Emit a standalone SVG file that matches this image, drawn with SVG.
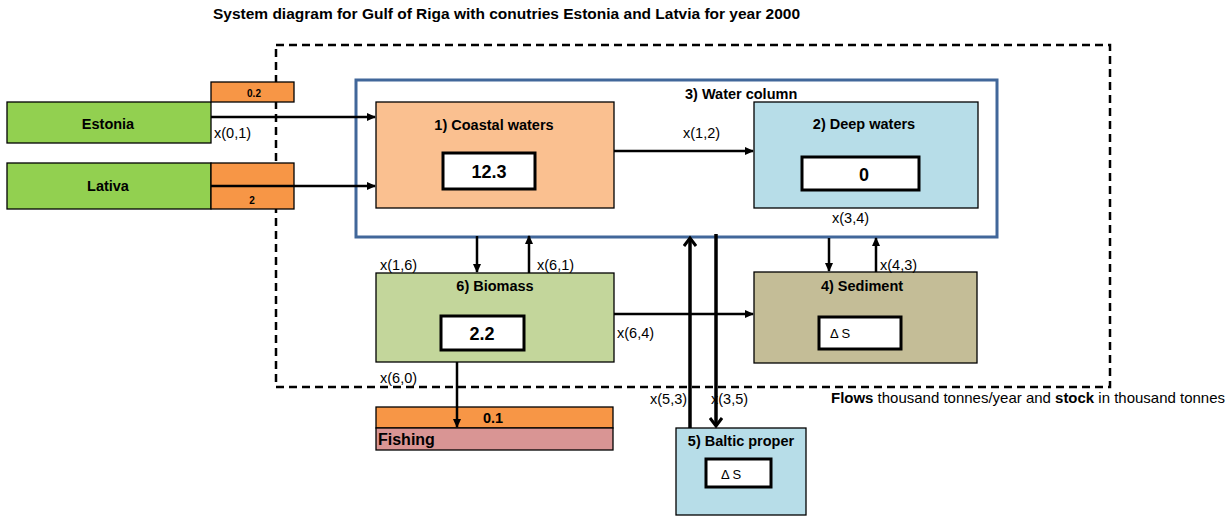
<svg xmlns="http://www.w3.org/2000/svg" width="1230" height="516" viewBox="0 0 1230 516">
<style>
text{font-family:"Liberation Sans",Arial,sans-serif;fill:#000}
.t{font-size:14px;font-weight:bold}
.h{font-size:14.5px;font-weight:bold}
.l{font-size:14.5px}
.n{font-size:18px;font-weight:bold}
.s{font-size:10px;font-weight:bold}
.box{stroke:#000;stroke-width:1.3}
.in{fill:#fff;stroke:#000;stroke-width:3}
.c{stroke:#000;stroke-width:2.5;fill:none}
.c3{stroke:#000;stroke-width:3.5;fill:none}
</style>
<defs>
<marker id="a" markerWidth="10" markerHeight="10" refX="8" refY="4" orient="auto" markerUnits="userSpaceOnUse" viewBox="0 0 10 8">
<path d="M0,0 L9,4 L0,8 z" fill="#000"/>
</marker>
<marker id="v" markerWidth="14" markerHeight="14" refX="10" refY="7" orient="auto" markerUnits="userSpaceOnUse" viewBox="0 0 14 14">
<path d="M2,1 L10,7 L2,13" fill="none" stroke="#000" stroke-width="3"/>
</marker>
</defs>
<rect width="1230" height="516" fill="#fff"/>
<text class="t" x="213" y="19" textLength="587" lengthAdjust="spacingAndGlyphs">System diagram for Gulf of Riga with conutries Estonia and Latvia for year 2000</text>

<rect x="276" y="45" width="834" height="342" fill="none" stroke="#000" stroke-width="2.5" stroke-dasharray="8,5"/>

<g id="watercolumn">
<rect x="356" y="80" width="641" height="157" fill="none" stroke="#41679a" stroke-width="3"/>
<text class="h" x="685" y="99">3) Water column</text>
</g>

<g id="estonia">
<rect class="box" x="7" y="102" width="204" height="41" fill="#92d050"/>
<text class="h" x="108" y="129" text-anchor="middle">Estonia</text>
<rect class="box" x="211" y="82" width="83" height="20" fill="#f79646"/>
<text class="s" x="254" y="97" text-anchor="middle">0.2</text>
</g>
<g id="lativa">
<rect class="box" x="7" y="163" width="204" height="46" fill="#92d050"/>
<text class="h" x="108" y="191" text-anchor="middle">Lativa</text>
<rect class="box" x="211" y="163" width="83" height="46" fill="#f79646"/>
<text class="s" x="252" y="204" text-anchor="middle">2</text>
</g>

<g id="coastal">
<rect class="box" x="376" y="102" width="238" height="106" fill="#fac090"/>
<text class="h" x="494" y="130" text-anchor="middle">1) Coastal waters</text>
<rect class="in" x="443" y="153" width="92" height="36"/>
<text class="n" x="489" y="178" text-anchor="middle">12.3</text>
</g>
<g id="deep">
<rect class="box" x="754" y="102" width="224" height="106" fill="#b7dde8"/>
<text class="h" x="864" y="129" text-anchor="middle">2) Deep waters</text>
<rect class="in" x="802" y="157" width="117" height="33"/>
<text class="n" x="864" y="181" text-anchor="middle">0</text>
</g>
<g id="biomass">
<rect class="box" x="376" y="273" width="238" height="89" fill="#c3d69b"/>
<text class="h" x="495" y="291" text-anchor="middle">6) Biomass</text>
<rect class="in" x="441" y="316" width="83" height="34"/>
<text class="n" x="482" y="340" text-anchor="middle">2.2</text>
</g>
<g id="sediment">
<rect class="box" x="754" y="272" width="223" height="91" fill="#c4bd97"/>
<text class="h" x="862" y="291" text-anchor="middle">4) Sediment</text>
<rect class="in" x="819" y="317" width="82" height="32"/>
<text x="830" y="338" style="font-size:13px">Δ S</text>
</g>
<g id="fishing">
<rect class="box" x="376" y="407" width="237" height="21" fill="#f79646"/>
<text class="h" x="493" y="423" text-anchor="middle">0.1</text>
<rect class="box" x="376" y="428" width="237" height="22" fill="#d99594"/>
<text x="378" y="445" style="font-size:16px;font-weight:bold">Fishing</text>
</g>
<g id="baltic">
<rect class="box" x="676" y="428" width="130" height="87" fill="#b7dde8"/>
<text class="h" x="741" y="446" text-anchor="middle">5) Baltic proper</text>
<rect class="in" x="706" y="459" width="65" height="28"/>
<text x="721" y="479" style="font-size:13px">Δ S</text>
</g>

<g id="connectors">
<line class="c" x1="211" y1="117" x2="375" y2="117" marker-end="url(#a)"/>
<line class="c" x1="211" y1="186" x2="375" y2="186" marker-end="url(#a)"/>
<line class="c" x1="614" y1="151" x2="753" y2="151" marker-end="url(#a)"/>
<line class="c" x1="477" y1="236" x2="477" y2="272" marker-end="url(#a)"/>
<line class="c" x1="529" y1="273" x2="529" y2="236" marker-end="url(#a)"/>
<line class="c" x1="829" y1="238" x2="829" y2="271" marker-end="url(#a)"/>
<line class="c" x1="876" y1="272" x2="876" y2="238" marker-end="url(#a)"/>
<line class="c" x1="614" y1="314" x2="753" y2="314" marker-end="url(#a)"/>
<line class="c" x1="457" y1="362" x2="457" y2="427" marker-end="url(#a)"/>
<line class="c3" x1="690" y1="428" x2="690" y2="238" marker-end="url(#v)"/>
<line class="c3" x1="716" y1="234" x2="716" y2="426" marker-end="url(#v)"/>
<text class="l" x="214" y="138">x(0,1)</text>
<text class="l" x="683" y="138">x(1,2)</text>
<text class="l" x="832" y="223">x(3,4)</text>
<text class="l" x="880" y="270">x(4,3)</text>
<text class="l" x="380" y="270">x(1,6)</text>
<text class="l" x="537" y="270">x(6,1)</text>
<text class="l" x="617" y="338">x(6,4)</text>
<text class="l" x="380" y="383">x(6,0)</text>
<text class="l" x="650" y="404">x(5,3)</text>
<text class="l" x="711" y="404">x(3,5)</text>
</g>
<text class="l" x="831" y="403" textLength="394" lengthAdjust="spacingAndGlyphs"><tspan font-weight="bold">Flows</tspan> thousand tonnes/year and <tspan font-weight="bold">stock</tspan> in thousand tonnes</text>
</svg>
